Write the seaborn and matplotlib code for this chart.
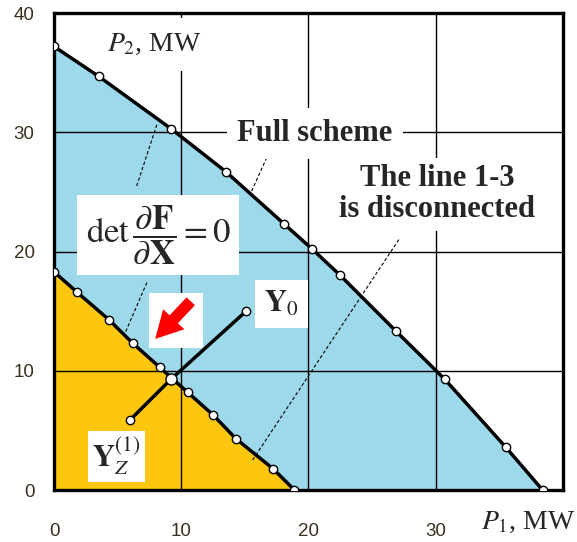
import matplotlib
matplotlib.use("Agg")
import matplotlib.pyplot as plt
import seaborn as sns
import pandas as pd
from matplotlib.patches import Rectangle, FancyArrowPatch

# boundary of the feasible region, full scheme
full_p1 = [0, 3.5, 9.2, 13.5, 18.1, 20.3, 22.5, 26.9, 30.7, 35.5, 38.4]
full_p2 = [37.2, 34.7, 30.3, 26.7, 22.3, 20.2, 18.0, 13.3, 9.3, 3.6, 0]

# boundary when line 1-3 is disconnected
cut_p1 = [0, 1.8, 4.3, 6.2, 8.3, 10.5, 12.5, 14.3, 17.2, 18.9]
cut_p2 = [18.3, 16.6, 14.3, 12.3, 10.3, 8.2, 6.3, 4.3, 1.8, 0]

# trajectory Y0 -> boundary -> Yz(1)
traj_p1 = [15.1, 9.2, 6.0]
traj_p2 = [15.0, 9.3, 5.9]

ticks = [0, 10, 20, 30, 40]

blue = "#9dd9ea"
yellow = "#fdc60f"

sns.set_style("white")
plt.rcParams["font.family"] = ["Liberation Serif", "DejaVu Serif"]
plt.rcParams["mathtext.fontset"] = "stix"

fig = plt.figure(figsize=(5.77, 5.42), dpi=100)
ax = fig.add_axes([0.0936, 0.0959, 0.882, 0.880])

full = pd.DataFrame({"p1": full_p1, "p2": full_p2})
cut = pd.DataFrame({"p1": cut_p1, "p2": cut_p2})
traj = pd.DataFrame({"p1": traj_p1, "p2": traj_p2})

ax.fill_between(full["p1"], 0, full["p2"], color=blue, lw=0, zorder=0.1)
ax.fill_between(cut["p1"], 0, cut["p2"], color=yellow, lw=0, zorder=0.2)

ax.set_axisbelow(True)
ax.grid(True, color="black", lw=1.0)

mk = dict(marker="o", markersize=6, markerfacecolor="white",
          markeredgecolor="black", markeredgewidth=1.0)
sns.lineplot(data=full, x="p1", y="p2", sort=False, color="black", lw=2.5,
             ax=ax, zorder=3, **mk)
sns.lineplot(data=cut, x="p1", y="p2", sort=False, color="black", lw=2.5,
             ax=ax, zorder=3, **mk)
sns.lineplot(data=traj, x="p1", y="p2", sort=False, color="black", lw=2.5,
             ax=ax, zorder=3)
ax.plot(traj_p1[::2], traj_p2[::2], ls="none", zorder=4, **mk)
ax.plot(traj_p1[1], traj_p2[1], ls="none", zorder=4, marker="o", markersize=8,
        markerfacecolor="white", markeredgecolor="black", markeredgewidth=1.0)

ax.set_xlim(0, 40)
ax.set_ylim(0, 40)
ax.set_xticks(ticks)
ax.set_yticks(ticks)
ax.set_xticklabels(["0", "10", "20", "30", ""])
ax.tick_params(axis="both", length=0, labelsize=13.5, labelcolor="#3a3020")
ax.tick_params(axis="x", pad=24)
ax.tick_params(axis="y", pad=14)
for lab in ax.get_xticklabels() + ax.get_yticklabels():
    lab.set_fontfamily("Liberation Sans")
for s in ax.spines.values():
    s.set_color("black")
    s.set_linewidth(2.4)
ax.set_xlabel("")
ax.set_ylabel("")

# leader lines
lead = dict(color="black", lw=0.8, ls=(0, (3, 2)), zorder=2.5)
ax.plot([6.5, 8.1], [25.5, 30.7], **lead)
ax.plot([7.3, 5.6], [17.4, 13.2], **lead)
ax.plot([16.9, 15.5], [28.3, 25.0], **lead)
ax.plot([27.1, 15.6], [21.0, 2.5], **lead)

ax.text(7.9, 37.4, r"$P_2$, MW", fontsize=20, ha="center", va="center",
        bbox=dict(boxstyle="square,pad=0.5", fc="white", ec="none"), zorder=5)
ax.text(20.5, 29.9, "Full scheme", fontsize=22, fontweight="bold",
        ha="center", va="center",
        bbox=dict(boxstyle="square,pad=0.35", fc="white", ec="none"), zorder=5)
ax.text(30.1, 24.8, "The line 1-3\nis disconnected", fontsize=22,
        fontweight="bold", ha="center", va="center", linespacing=1.1,
        bbox=dict(boxstyle="square,pad=0.2", fc="white", ec="none"), zorder=5)
ax.text(8.2, 21.4, r"$\mathrm{det}\,\dfrac{\partial\mathbf{F}}{\partial\mathbf{X}}=0$",
        fontsize=25, ha="center", va="center",
        bbox=dict(boxstyle="square,pad=0.25", fc="white", ec="none"), zorder=5)
ax.text(17.9, 15.6, r"$\mathbf{Y}_0$", fontsize=22, ha="center", va="center",
        bbox=dict(boxstyle="square,pad=0.3", fc="white", ec="none"), zorder=5)
ax.text(4.9, 2.8, r"$\mathbf{Y}_Z^{(1)}$", fontsize=22, ha="center", va="center",
        bbox=dict(boxstyle="square,pad=0.15", fc="white", ec="none"), zorder=5)
ax.text(37.3, -2.7, r"$P_1$, MW", fontsize=20, ha="center", va="center",
        clip_on=False)

# red arrow showing direction of motion
ax.add_patch(Rectangle((7.45, 11.9), 4.25, 4.6, fc="white", ec="none", zorder=5))
ax.add_patch(FancyArrowPatch((10.9, 16.0), (7.8, 12.5),
                             arrowstyle="simple,head_width=1.4,head_length=1.3,tail_width=0.55",
                             mutation_scale=15, color="red", lw=0, zorder=6))

fig.savefig("out.png", dpi=100)
